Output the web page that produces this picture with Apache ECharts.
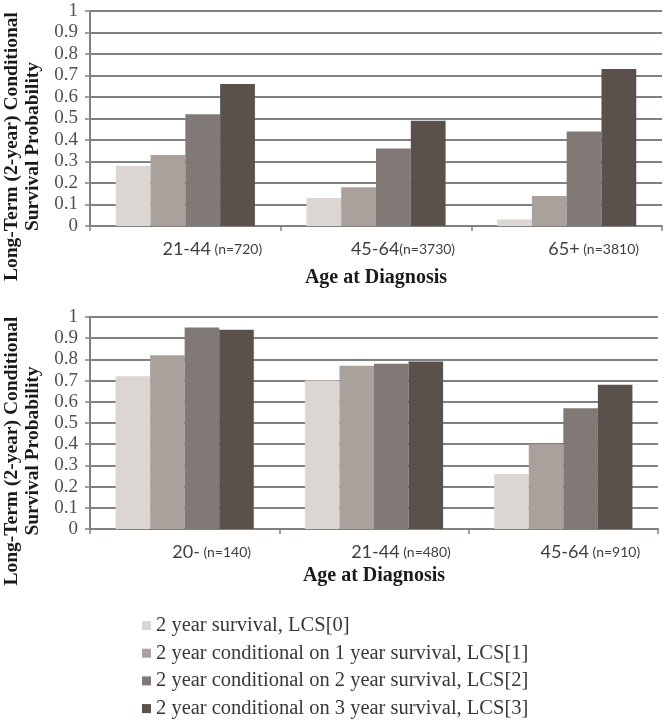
<!DOCTYPE html>
<html>
<head>
<meta charset="utf-8">
<script src="https://cdn.jsdelivr.net/npm/echarts@6/dist/echarts.min.js"></script>
<style>
html,body{margin:0;padding:0;background:#fff;}
#chart{width:666px;height:727px;}
</style>
</head>
<body>
<div id="chart"></div>
<script>
// ---- data ----
var seriesNames = [
  '2 year survival, LCS[0]',
  '2 year conditional on 1 year survival, LCS[1]',
  '2 year conditional on 2 year survival, LCS[2]',
  '2 year conditional on 3 year survival, LCS[3]'
];
var topAges = ['21-44', '45-64', '65+'];
var topCounts = ['(n=720)', '(n=3730)', '(n=3810)'];
var topSep = [' ', '', ' '];
var bottomAges = ['20-', '21-44', '45-64'];
var bottomCounts = ['(n=140)', '(n=480)', '(n=910)'];
var bottomSep = [' ', ' ', ' '];

var topLCS0 = [0.28, 0.13, 0.03];
var topLCS1 = [0.33, 0.18, 0.14];
var topLCS2 = [0.52, 0.36, 0.44];
var topLCS3 = [0.66, 0.49, 0.73];

var botLCS0 = [0.72, 0.70, 0.26];
var botLCS1 = [0.82, 0.77, 0.40];
var botLCS2 = [0.95, 0.78, 0.57];
var botLCS3 = [0.94, 0.79, 0.68];

var yTicks = [0, 0.1, 0.2, 0.3, 0.4, 0.5, 0.6, 0.7, 0.8, 0.9, 1];

// ---- styling ----
var colors = ['#dcd6d3', '#aaa19d', '#817976', '#5a514d'];
var gridColor = '#7f8282';
var serif = '"Liberation Serif", "Times New Roman", serif';
var sans = 'Lato, "Open Sans", sans-serif';

function makeCats(ages, counts, seps) {
  return ages.map(function (a, i) { return { age: a, n: counts[i], sep: seps[i] }; });
}
var topCats = makeCats(topAges, topCounts, topSep);
var botCats = makeCats(bottomAges, bottomCounts, bottomSep);

function xAxisCfg(gridIndex, cats, gap) {
  return {
    type: 'category',
    gridIndex: gridIndex,
    data: cats.map(function (c) { return c.age + '|' + c.sep + '|' + c.n; }),
    axisLine: { lineStyle: { color: gridColor, width: 2 } },
    axisTick: { show: true, length: 5, lineStyle: { color: gridColor, width: 1.5 } },
    axisLabel: {
      margin: 14,
      padding: [0, 0, 0, 54],
      formatter: function (v) {
        var p = v.split('|');
        return '{a|' + p[0] + '}{b|' + p[1] + p[2] + '}';
      },
      rich: {
        a: { fontFamily: sans, fontSize: 18, color: '#404040' },
        b: { fontFamily: sans, fontSize: 14, color: '#404040' }
      }
    },
    name: 'Age at Diagnosis',
    nameLocation: 'middle',
    nameGap: gap,
    nameTextStyle: { fontFamily: serif, fontWeight: 'bold', fontSize: 20, color: '#1a1a1a' }
  };
}

function yAxisCfg(gridIndex) {
  return {
    type: 'value',
    gridIndex: gridIndex,
    min: 0, max: 1, interval: 0.1,
    axisLine: { show: true, lineStyle: { color: gridColor, width: 2 } },
    axisTick: { show: true, length: 5, lineStyle: { color: gridColor, width: 1.5 } },
    splitLine: { show: true, lineStyle: { color: gridColor, width: 2 } },
    axisLabel: {
      margin: 12,
      fontFamily: serif, fontSize: 19, color: '#505050',
      formatter: function (v) {
        var r = Math.round(v * 10) / 10;
        for (var i = 0; i < yTicks.length; i++) {
          if (Math.abs(yTicks[i] - r) < 1e-6) return String(yTicks[i]);
        }
        return '';
      }
    },
    name: 'Long-Term (2-year) Conditional\nSurvival Probability',
    nameLocation: 'middle',
    nameGap: 44,
    nameTextStyle: {
      fontFamily: serif, fontWeight: 'bold', fontSize: 19.5, lineHeight: 21, color: '#1a1a1a',
      padding: [0, 56, 0, 0]
    }
  };
}

var topData = [topLCS0, topLCS1, topLCS2, topLCS3];
var botData = [botLCS0, botLCS1, botLCS2, botLCS3];
var series = [];
[topData, botData].forEach(function (set, gi) {
  set.forEach(function (vals, si) {
    series.push({
      type: 'bar',
      name: seriesNames[si],
      xAxisIndex: gi,
      yAxisIndex: gi,
      data: vals,
      barGap: '0%',
      barCategoryGap: '27%',
      itemStyle: { color: colors[si] },
      emphasis: { disabled: true }
    });
  });
});

var chart = echarts.init(document.getElementById('chart'), null, { renderer: 'canvas' });
chart.setOption({
  backgroundColor: '#ffffff',
  animation: false,
  color: colors,
  grid: [
    { left: 90, right: 4, top: 11, height: 215, containLabel: false, outerBoundsMode: 'none' },
    { left: 90, right: 8, top: 317, height: 212, containLabel: false, outerBoundsMode: 'none' }
  ],
  xAxis: [xAxisCfg(0, topCats, 42), xAxisCfg(1, botCats, 37)],
  yAxis: [yAxisCfg(0), yAxisCfg(1)],
  legend: {
    orient: 'vertical',
    left: 137,
    top: 610,
    width: 500,
    height: 140,
    icon: 'rect',
    itemWidth: 9,
    itemHeight: 9,
    itemGap: 6.7,
    padding: 5,
    data: seriesNames,
    textStyle: { fontFamily: serif, fontSize: 20.5, lineHeight: 20, color: '#383838' },
    selectedMode: false
  },
  series: series
});
</script>
</body>
</html>
